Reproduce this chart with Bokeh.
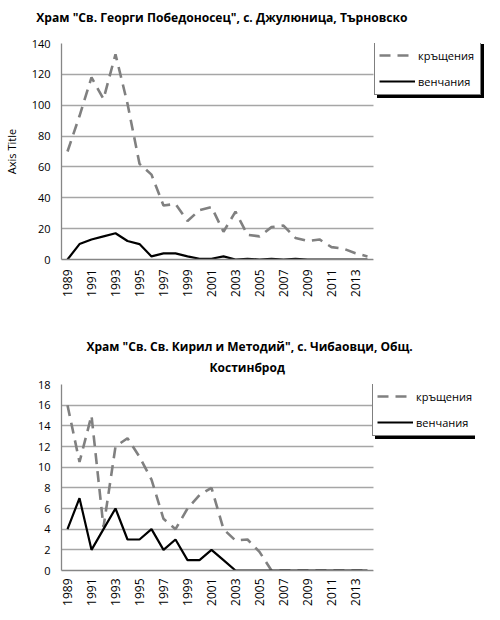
import math
from bokeh.plotting import figure
from bokeh.layouts import column
from bokeh.models import (Legend, LegendItem, FixedTicker, Range1d, Title,
                          BoxAnnotation)
from bokeh.embed import file_html
from bokeh.resources import INLINE

years = list(range(1989, 2015))
tick_years = list(range(1989, 2014, 2))

top_title = "Храм \"Св. Георги Победоносец\", с. Джулюница, Търновско"
top_baptisms = [70, 93, 118, 104, 133, 101, 62, 55, 35, 36, 25, 32, 34, 18, 31, 16,
                15, 21, 22, 14, 12, 13, 8, 7, 4, 2]
top_weddings = [0, 10, 13, 15, 17, 12, 10, 2, 4, 4, 2, 0.5, 0.5, 2, 0, 0.5,
                0, 0.5, 0, 0.5, 0, 0, 0, 0, 0, 0]

bot_title_1 = "Храм \"Св. Св. Кирил и Методий\", с. Чибаовци, Общ."
bot_title_2 = "Костинброд"
bot_baptisms = [16, 10.5, 15, 4.2, 12, 12.8, 11, 8.8, 5, 4, 6, 7.3, 8, 4, 2.9, 3,
                1.8, 0, 0, 0, 0, 0, 0, 0, 0, 0]
bot_weddings = [4, 7, 2, 4, 6, 3, 3, 4, 2, 3, 1, 1, 2, 1, 0, 0,
                0, 0, 0, 0, 0, 0, 0, 0, 0, 0]

series_names = ["кръщения", "венчания"]

FONT = "Open Sans"
PX_PER_YEAR = 12
LEG_PAD, LEG_GLYPH, LEG_STANDOFF, LEG_LABEL_W = 4, 36, 3, 58
LEG_LABEL_H, LEG_SPACING = 18, 8
LEG_H = 2 * LEG_PAD + 2 * LEG_LABEL_H + LEG_SPACING
SHADOW = 3


def make_fig(frame_w, frame_h, left, top, bottom, ymax, ystep, ylabel, xstandoff):
    x0 = years[0] - 0.5
    p = figure(frame_width=frame_w, frame_height=frame_h, output_backend="svg",
               toolbar_location=None,
               x_range=Range1d(x0, x0 + frame_w / PX_PER_YEAR), y_range=Range1d(0, ymax),
               min_border_left=left, min_border_right=0,
               min_border_top=top, min_border_bottom=bottom)
    p.outline_line_color = None
    p.background_fill_color = "white"
    p.xgrid.visible = False
    p.ygrid.grid_line_color = "#a6a6a6"
    p.ygrid.grid_line_width = 1.3
    p.yaxis.ticker = FixedTicker(ticks=list(range(0, ymax + 1, ystep)))
    p.xaxis.ticker = FixedTicker(ticks=tick_years)
    p.xaxis.bounds = (x0, years[-1] + 0.5)
    p.xaxis.major_label_orientation = math.pi / 2
    for ax in (p.xaxis, p.yaxis):
        ax.axis_line_color = "#868686"
        ax.axis_line_width = 1.3
        ax.major_tick_line_color = None
        ax.minor_tick_line_color = None
        ax.major_tick_out = 0
        ax.major_tick_in = 0
        ax.minor_tick_out = 0
        ax.major_label_text_font = FONT
        ax.major_label_text_color = "black"
    p.yaxis.major_label_text_font_size = "11px"
    p.xaxis.major_label_text_font_size = "12px"
    p.yaxis.major_label_standoff = 11
    p.xaxis.major_label_standoff = xstandoff
    if ylabel:
        p.yaxis.axis_label = ylabel
        p.yaxis.axis_label_text_font = FONT
        p.yaxis.axis_label_text_font_size = "11px"
        p.yaxis.axis_label_text_font_style = "normal"
        p.yaxis.axis_label_text_color = "black"
        p.yaxis.axis_label_standoff = 10
    # white cover so that the grid stops at the end of the category axis
    p.add_layout(BoxAnnotation(left=years[-1] + 0.5, fill_color="white", fill_alpha=1,
                               line_color=None))
    return p


def legend_box(items, loc, shadow):
    return Legend(items=items, location=loc,
                  background_fill_color="black" if shadow else "white",
                  background_fill_alpha=1.0,
                  border_line_color="black", border_line_width=1.3,
                  label_text_font=FONT, label_text_font_size="11px",
                  label_text_color="black", glyph_width=LEG_GLYPH, glyph_height=12,
                  label_standoff=LEG_STANDOFF, label_width=LEG_LABEL_W,
                  label_height=LEG_LABEL_H, padding=LEG_PAD, spacing=LEG_SPACING,
                  margin=0)


def add_series(p, baptisms, weddings, frame_h, leg_x):
    r1 = p.line(years, baptisms, line_color="#808080", line_width=2.6, line_dash="11 7")
    r2 = p.line(years, weddings, line_color="black", line_width=2.2)
    y = frame_h - LEG_H
    shadow_items = [LegendItem(label=" ", renderers=[r1]),
                    LegendItem(label=" ", renderers=[r2])]
    p.add_layout(legend_box(shadow_items, (leg_x + SHADOW, y - SHADOW), True), "center")
    items = [LegendItem(label=series_names[0], renderers=[r1]),
             LegendItem(label=series_names[1], renderers=[r2])]
    p.add_layout(legend_box(items, (leg_x, y), False), "center")


def add_title(p, text, offset, size="12px", standoff=3, align="left"):
    t = Title(text=text, align=align, offset=offset, text_font=FONT,
              text_font_size=size, text_font_style="bold", text_color="black",
              standoff=standoff)
    p.add_layout(t, "above")


# top chart
p1 = make_fig(428, 216, 56, 37, 45, 140, 20, "Axis Title", 10)
p1.title.text = ""
add_title(p1, " ", 0, size="6px", standoff=1)
add_title(p1, top_title, 82, size="12.1px", standoff=13, align="right")
add_series(p1, top_baptisms, top_weddings, 216, 313)

# bottom chart
p2 = make_fig(430, 186, 54, 80, 30, 18, 2, None, 8)
p2.title.text = ""
add_title(p2, " ", 0, size="4px", standoff=2)
add_title(p2, bot_title_2, 148, standoff=0)
add_title(p2, bot_title_1, 25)
add_series(p2, bot_baptisms, bot_weddings, 186, 336)

layout = column(p1, p2, spacing=0)
open("out.html", "w").write(file_html(layout, INLINE))
